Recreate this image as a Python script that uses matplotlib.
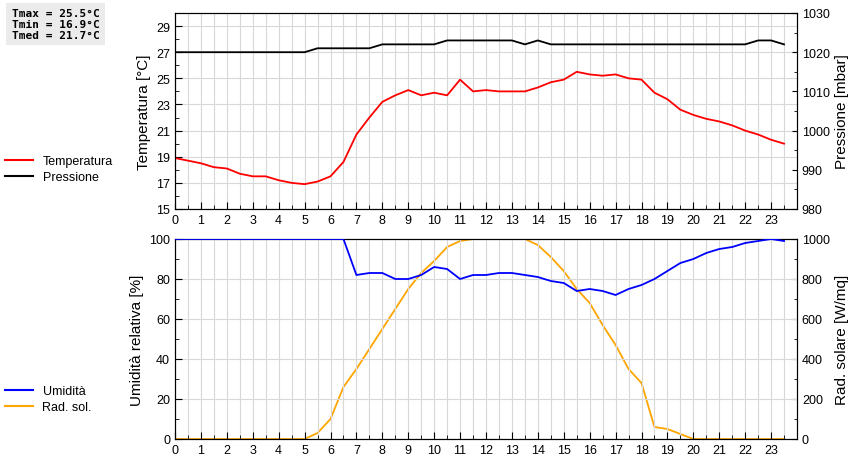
import matplotlib
matplotlib.use("Agg")
import matplotlib.pyplot as plt
import numpy as np
from matplotlib.lines import Line2D

hours = [i * 0.5 for i in range(48)]
temperatura = [18.9, 18.7, 18.5, 18.2, 18.1, 17.7, 17.5, 17.5, 17.2, 17.0, 16.9, 17.1,
               17.5, 18.6, 20.7, 22.0, 23.2, 23.7, 24.1, 23.7, 23.9, 23.7, 24.9, 24.0,
               24.1, 24.0, 24.0, 24.0, 24.3, 24.7, 24.9, 25.5, 25.3, 25.2, 25.3, 25.0,
               24.9, 23.9, 23.4, 22.6, 22.2, 21.9, 21.7, 21.4, 21.0, 20.7, 20.3, 20.0]
pressione = [1020] * 11 + [1021] * 5 + [1022] * 5 + [1023] * 6 + [1022, 1023] + [1022] * 16 + [1023, 1023, 1022]
umidita = [100] * 14 + [82, 83, 83, 80, 80, 82, 86, 85, 80, 82, 82, 83, 83, 82, 81, 79,
                        78, 74, 75, 74, 72, 75, 77, 80, 84, 88, 90, 93, 95, 96, 98, 99, 100, 99]
rad_sol = [0] * 11 + [30, 100, 260, 350, 450, 550, 650, 750, 830, 890, 960, 990,
                      1000, 1000, 1000, 1000, 1000, 970, 910, 840, 750, 680, 570, 470, 350,
                      280, 60, 50, 25, 0, 0, 0, 0, 0, 0, 0, 0]
stats = ["Tmax = 25.5°C", "Tmin = 16.9°C", "Tmed = 21.7°C"]

fig = plt.figure(figsize=(8.6, 4.6), dpi=100)
plt.rcParams['font.family'] = 'Liberation Sans'
fs = 9

def style(ax):
    ax.set_xlim(0, 24)
    ax.set_xticks(range(24))
    ax.set_xticks(np.arange(0, 24, 0.5), minor=True)
    ax.grid(True, which='both', axis='x', color='#d8d8d8', lw=0.8)
    ax.grid(True, which='major', axis='y', color='#d8d8d8', lw=0.8)
    ax.tick_params(which='both', direction='in', labelsize=fs)
    ax.tick_params(which='major', length=5)
    ax.tick_params(which='minor', length=3)
    ax.set_axisbelow(True)

ax1 = fig.add_axes([175/860, 1-210/460, 622/860, 196/460])
style(ax1)
ax1.set_ylim(15, 30)
ax1.set_yticks(range(15, 30, 2))
ax1.set_yticks(range(15, 30), minor=True)
ax1.plot(hours, temperatura, color='red', lw=1.3)
ax1.set_ylabel("Temperatura [°C]", fontsize=11)
ax1b = ax1.twinx()
ax1b.set_ylim(980, 1030)
ax1b.set_yticks(range(980, 1031, 10))
ax1b.set_yticks(range(980, 1031, 5), minor=True)
ax1b.tick_params(which='both', direction='in', labelsize=fs)
ax1b.plot(hours, pressione, color='black', lw=1.3)
ax1b.set_ylabel("Pressione [mbar]", fontsize=11)

ax2 = fig.add_axes([175/860, 1-440/460, 622/860, 200/460])
style(ax2)
ax2.set_ylim(0, 100)
ax2.set_yticks(range(0, 101, 20))
ax2.set_yticks(range(0, 101, 10), minor=True)
ax2.plot(hours, umidita, color='#0000ff', lw=1.3, zorder=3)
ax2.set_ylabel("Umidità relativa [%]", fontsize=11)
ax2b = ax2.twinx()
ax2b.set_ylim(0, 1000)
ax2b.set_yticks(range(0, 1001, 200))
ax2b.set_yticks(range(0, 1001, 100), minor=True)
ax2b.tick_params(which='both', direction='in', labelsize=fs)
ax2b.plot(hours, rad_sol, color='orange', lw=1.3)
ax2b.set_ylabel("Rad. solare [W/mq]", fontsize=11)
ax2.set_zorder(ax2b.get_zorder() + 1)
ax2.patch.set_visible(False)

fig.text(12/860, 1-25/460, "\n".join(stats), family='DejaVu Sans Mono', weight='bold',
         fontsize=8, va='center', ha='left', linespacing=1.1,
         bbox=dict(facecolor='#ebebeb', edgecolor='none', pad=4))

fig.legend([Line2D([], [], color='red', lw=1.5), Line2D([], [], color='black', lw=1.5)],
           ["Temperatura", "Pressione"], loc='center left', bbox_to_anchor=(0, 1-170/460),
           frameon=False, fontsize=fs, handlelength=2.2, borderaxespad=0, labelspacing=0.3)
fig.legend([Line2D([], [], color='#0000ff', lw=1.5), Line2D([], [], color='orange', lw=1.5)],
           ["Umidità", "Rad. sol."], loc='center left', bbox_to_anchor=(0, 1-400/460),
           frameon=False, fontsize=fs, handlelength=2.2, borderaxespad=0, labelspacing=0.3)

fig.savefig("out.png", dpi=100)
